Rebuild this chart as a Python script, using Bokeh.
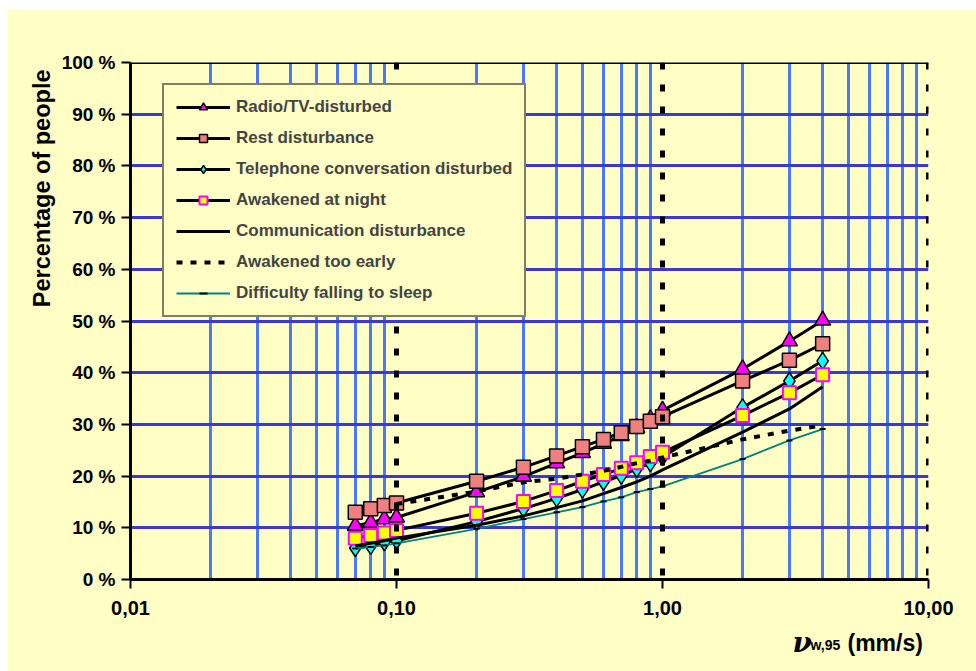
import math
from bokeh.plotting import figure
from bokeh.models import (Range1d, FixedTicker, CustomJSTickFormatter, Span, Label, Legend, LegendItem,
                          Spacer, Title)
from bokeh.layouts import column, row
from bokeh.embed import file_html
from bokeh.resources import INLINE

# ---- data ----
x_all = [0.07, 0.08, 0.09, 0.1, 0.2, 0.3, 0.4, 0.5, 0.6, 0.7, 0.8, 0.9, 1.0, 2.0, 3.0, 4.0]
radio_tv = [10.4, 11.0, 11.7, 12.0, 16.9, 19.9, 22.5, 24.5, 26.3, 27.8, 29.3, 31.0, 32.7, 40.7, 46.1, 50.1]
rest = [13.0, 13.7, 14.3, 14.8, 19.0, 21.7, 23.9, 25.7, 27.1, 28.4, 29.6, 30.6, 31.5, 38.4, 42.4, 45.6]
telephone = [6.1, 6.5, 7.2, 7.5, 11.2, 13.7, 15.7, 17.4, 18.9, 20.1, 21.4, 22.5, 23.7, 33.3, 38.4, 42.3]
awakened_night = [8.0, 8.5, 9.0, 9.5, 12.8, 15.1, 17.2, 19.0, 20.3, 21.5, 22.6, 23.8, 24.6, 31.7, 36.1, 39.6]
communication = [6.5, 7.0, 7.5, 8.0, 10.5, 12.3, 13.9, 15.2, 16.6, 17.8, 18.9, 20.0, 21.2, 28.5, 33.0, 37.3]
x_early = [0.1, 0.2, 0.3, 0.4, 0.5, 0.6, 0.7, 0.8, 0.9, 1.0, 2.0, 3.0, 4.0]
awakened_early = [14.6, 17.0, 18.8, 19.5, 20.3, 21.0, 21.8, 22.5, 23.0, 23.6, 27.1, 28.8, 29.8]
sleep_difficulty = [6.0, 6.3, 6.6, 7.0, 9.8, 11.7, 13.0, 14.0, 15.1, 15.9, 16.9, 17.5, 18.0, 23.3, 26.9, 29.1]

x_ticks = [0.01, 0.1, 1.0, 10.0]
x_minor = [m * d for d in (0.01, 0.1, 1.0) for m in range(2, 10)]
y_ticks = list(range(0, 101, 10))

BG = "#FFFEC4"
FONT = "Liberation Sans"

FRAME_W, FRAME_H = 798, 517


def fx(px):
    """frame pixel offset (from left) -> data x on the log axis"""
    return 10 ** (-2 + 3 * px / FRAME_W)


def fy(py):
    """frame pixel offset (from bottom, upward) -> data y"""
    return 100 * py / FRAME_H


p = figure(width=969, height=662, x_axis_type="log",
           x_range=Range1d(0.01, 10), y_range=Range1d(0, 100),
           output_backend="svg", toolbar_location=None,
           min_border_left=123, min_border_right=48, min_border_top=53, min_border_bottom=92)
p.background_fill_color = BG
p.border_fill_color = BG
p.outline_line_color = None

# grids
p.xgrid.ticker = FixedTicker(ticks=x_minor)
p.xgrid.grid_line_color = "#4a78ff"
p.xgrid.grid_line_width = 3
p.ygrid.ticker = FixedTicker(ticks=y_ticks[1:-1])
p.ygrid.grid_line_color = "#3a3ad2"
p.ygrid.grid_line_width = 3

for xv in x_ticks[1:]:
    p.add_layout(Span(location=xv, dimension="height", line_color="black",
                      line_width=5, line_dash="7 15"))
p.add_layout(Span(location=100, dimension="width", line_color="black", line_width=3))

# axes
xa = p.xaxis[0]
xa.ticker = FixedTicker(ticks=x_ticks)
xa.formatter = CustomJSTickFormatter(code="return tick.toFixed(2).replace('.', ',');")
ya = p.yaxis[0]
ya.ticker = FixedTicker(ticks=y_ticks)
ya.formatter = CustomJSTickFormatter(code="return tick.toFixed(0) + ' %';")
for ax in (xa, ya):
    ax.axis_line_width = 3
    ax.axis_line_color = "black"
    ax.major_tick_line_color = "black"
    ax.major_tick_line_width = 2
    ax.major_tick_in = 0
    ax.major_tick_out = 9
    ax.minor_tick_line_color = None
    ax.major_label_text_font = FONT
    ax.major_label_text_font_style = "bold"
    ax.major_label_text_font_size = "19px"
    ax.major_label_text_color = "black"
xa.major_label_text_font_size = "20px"
xa.major_label_standoff = 12
ya.major_label_standoff = 6

# series
r1l = p.line(x_all, radio_tv, line_color="black", line_width=3)
r1m = p.scatter(x_all, radio_tv, marker="triangle", size=16, fill_color="#FF00FF", line_color="black", line_width=1.5)
r2l = p.line(x_all, rest, line_color="black", line_width=3)
r2m = p.scatter(x_all, rest, marker="square", size=14, fill_color="#F08080", line_color="black", line_width=1.5)
r3l = p.line(x_all, telephone, line_color="black", line_width=3)
r3m = p.scatter(x_all, telephone, marker="diamond", size=17, fill_color="#00FFFF", line_color="black", line_width=1.5)
r4l = p.line(x_all, awakened_night, line_color="black", line_width=3)
r4m = p.scatter(x_all, awakened_night, marker="square", size=13, fill_color="#FFFF00", line_color="#FF00FF", line_width=2)
r5l = p.line(x_all, communication, line_color="black", line_width=3)
r6l = p.line(x_early, awakened_early, line_color="black", line_width=4, line_dash="6 8")
r7l = p.line(x_all, sleep_difficulty, line_color="#008080", line_width=1.8)
r7m = p.scatter(x_all, sleep_difficulty, marker="dash", size=6, line_color="black", line_width=2)

legend = Legend(items=[
    LegendItem(label="Radio/TV-disturbed", renderers=[r1l, r1m]),
    LegendItem(label="Rest disturbance", renderers=[r2l, r2m]),
    LegendItem(label="Telephone conversation disturbed", renderers=[r3l, r3m]),
    LegendItem(label="Awakened at night", renderers=[r4l, r4m]),
    LegendItem(label="Communication disturbance", renderers=[r5l]),
    LegendItem(label="Awakened too early", renderers=[r6l]),
    LegendItem(label="Difficulty falling to sleep", renderers=[r7l, r7m]),
], location=(32, 262))
legend.background_fill_color = BG
legend.background_fill_alpha = 1
legend.border_line_color = "black"
legend.border_line_width = 2
legend.label_text_font = FONT
legend.label_text_font_style = "bold"
legend.label_text_font_size = "17px"
legend.glyph_width = 54
legend.glyph_height = 20
legend.label_height = 20
legend.spacing = 11
legend.padding = 12
legend.margin = 0
legend.label_standoff = 6
p.add_layout(legend)

# y-axis title (top aligned, as in the reference)
p.add_layout(Title(text="Percentage of people", align="right", standoff=8, offset=7,
                   text_font=FONT, text_font_style="bold", text_font_size="23.5px",
                   text_color="black"), "left")

# x-axis title pieces, placed in side panels so they are not clipped by the frame
p.add_layout(Label(x=fx(662), y=fy(-63), text="ν",
                   text_font="DejaVu Serif", text_font_style="bold italic", text_font_size="28px",
                   text_color="black", text_baseline="alphabetic"), "below")
p.add_layout(Label(x=fx(680), y=fy(-65), text="w,95",
                   text_font=FONT, text_font_style="bold", text_font_size="14px",
                   text_color="black", text_baseline="alphabetic"), "right")
p.add_layout(Label(x=fx(717), y=fy(-63), text="(mm/s)",
                   text_font=FONT, text_font_style="bold", text_font_size="23px",
                   text_color="black", text_baseline="alphabetic"), "above")

layout = column(Spacer(height=9), row(Spacer(width=7), p))
open("out.html", "w").write(file_html(layout, INLINE))
